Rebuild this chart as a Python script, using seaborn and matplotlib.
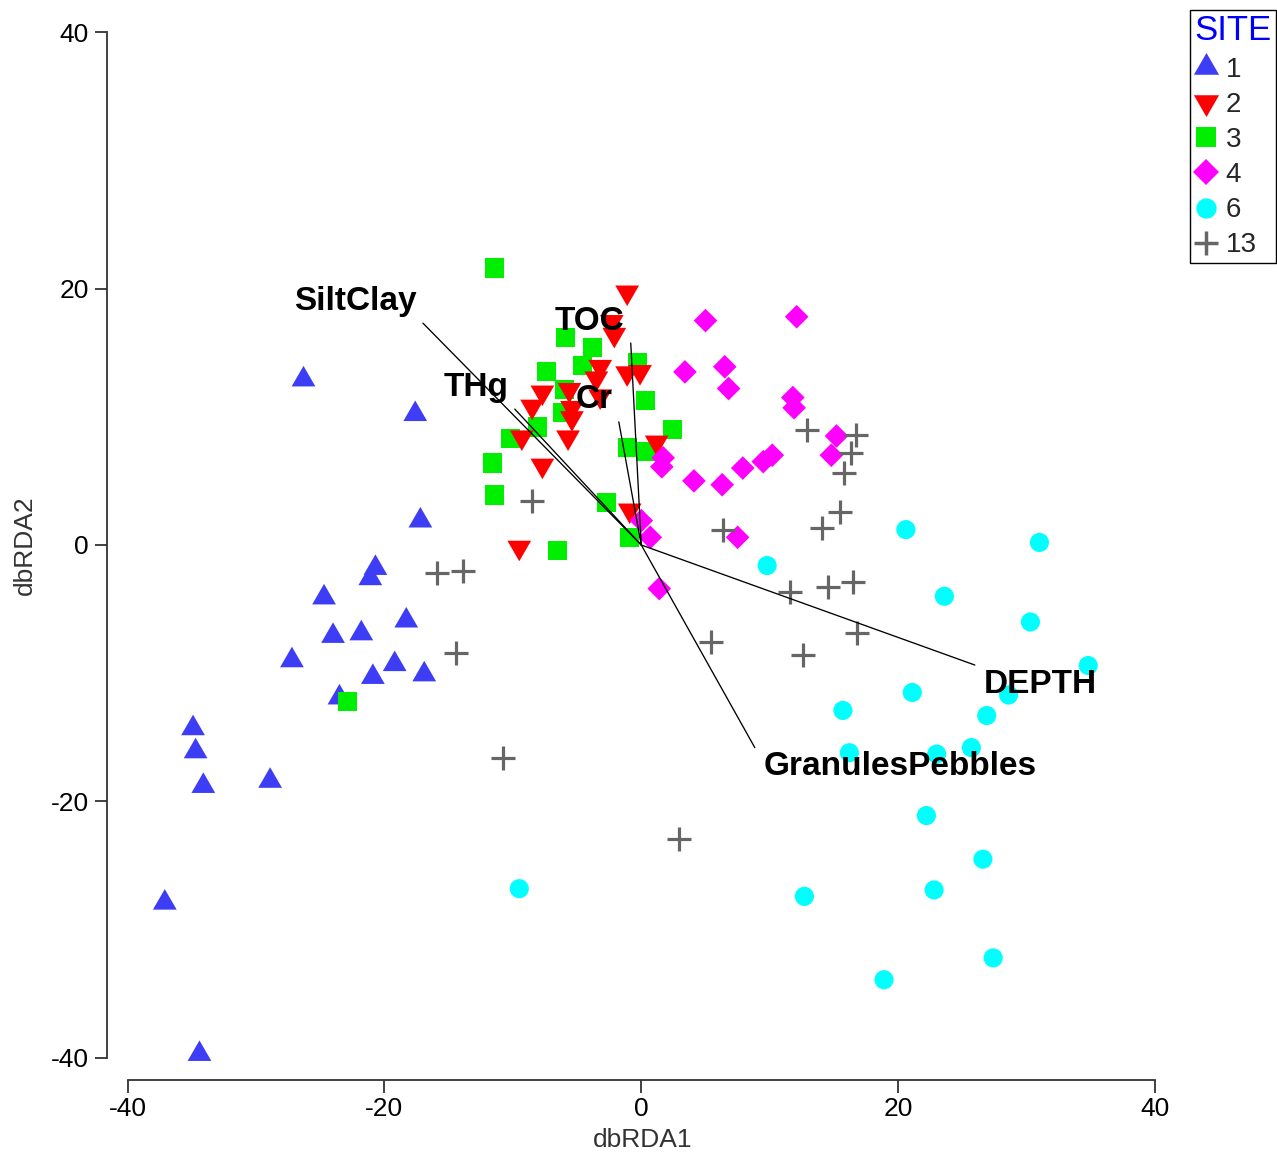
import numpy as np
import pandas as pd
import matplotlib
matplotlib.use("Agg")
import matplotlib.pyplot as plt
from matplotlib.lines import Line2D
import seaborn as sns

# ---------------- data ----------------
site1_x = [-26.3, -17.6, -17.2, -20.7, -21.1, -24.7, -24.0, -21.8, -18.3, -27.2,
           -19.2, -20.9, -16.9, -23.5, -34.9, -34.7, -34.1, -28.9, -37.1, -34.4]
site1_y = [12.9, 10.2, 1.9, -1.8, -2.6, -4.1, -7.1, -6.9, -5.9, -9.0,
           -9.3, -10.3, -10.1, -11.9, -14.3, -16.1, -18.8, -18.4, -27.9, -39.7]

site2_x = [-1.1, -2.1, -2.3, -3.2, -3.5, -1.1, -0.1, -5.6, -7.7, -8.5,
           -5.4, -5.4, -5.7, -9.3, -7.7, 1.2, -0.9, -9.5, -3.2]
site2_y = [19.7, 16.4, 17.4, 13.9, 13.0, 13.4, 13.5, 12.1, 11.9, 10.8,
           10.7, 9.9, 8.4, 8.4, 6.2, 8.0, 2.7, -0.2, 11.6]

site3_x = [-11.4, -5.9, -3.8, -4.6, -7.4, -0.3, -6.0, 0.3, -6.1, -8.1,
           -10.2, 2.4, -1.1, 0.4, -11.6, -11.4, -2.7, -0.9, -6.5, -22.9]
site3_y = [21.6, 16.2, 15.4, 14.0, 13.5, 14.2, 12.1, 11.3, 10.3, 9.2,
           8.3, 9.0, 7.6, 7.3, 6.4, 3.9, 3.3, 0.6, -0.4, -12.2]

site4_x = [5.0, 12.1, 3.4, 6.5, 6.8, 11.8, 11.9, 15.2, 14.8, 1.7,
           1.6, 4.1, 6.3, 7.9, 9.5, 10.2, 7.5, 0.0, 0.7, 1.4]
site4_y = [17.5, 17.8, 13.5, 13.9, 12.2, 11.5, 10.7, 8.5, 7.0, 6.8,
           6.1, 5.0, 4.7, 6.0, 6.5, 7.0, 0.6, 1.9, 0.6, -3.4]

site6_x = [20.6, 31.0, 9.8, 23.6, 30.3, 21.1, 34.8, 28.6, 15.7, 26.9,
           16.2, 23.0, 25.7, 22.2, 26.6, 22.8, 12.7, 27.4, 18.9, -9.5]
site6_y = [1.2, 0.2, -1.6, -4.0, -6.0, -11.5, -9.4, -11.7, -12.9, -13.3,
           -16.2, -16.3, -15.8, -21.1, -24.5, -26.9, -27.4, -32.2, -33.9, -26.8]

site13_x = [-15.9, -13.9, -14.4, -8.5, -10.8, 2.9, 5.4, 6.4, 12.9, 16.7,
            16.3, 15.8, 15.5, 14.1, 11.6, 14.5, 16.5, 16.8, 12.6]
site13_y = [-2.2, -2.0, -8.4, 3.4, -16.6, -22.9, -7.6, 1.2, 9.0, 8.6,
            7.2, 5.6, 2.6, 1.3, -3.7, -3.3, -2.9, -6.9, -8.6]

site_labels = ["1", "2", "3", "4", "6", "13"]

vec_names = ["SiltClay", "THg", "TOC", "Cr", "DEPTH", "GranulesPebbles"]
vec_x = [-17.0, -9.85, -0.82, -1.75, 25.97, 8.84]
vec_y = [17.3, 10.6, 15.75, 9.6, -9.36, -15.8]

# ---------------- styling ----------------
sns.set_theme(style="white")
plt.rcParams["font.family"] = ["Liberation Sans", "DejaVu Sans"]

DPI = 100
fig = plt.figure(figsize=(12.77, 11.55), dpi=DPI)
W, H = 1277, 1155
ax = fig.add_axes([107 / W, (H - 1080) / H, (1178 - 107) / W, (1080 - 10) / H])

tri_up = (3, 0, 0)
tri_dn = (3, 0, 180)
styles = {
    "1": dict(marker=tri_up, color="#3d3df5", s=390),
    "2": dict(marker=tri_dn, color="#ff0000", s=390),
    "3": dict(marker="s", color="#00ee00", s=190),
    "4": dict(marker="D", color="#ff00ff", s=145),
    "6": dict(marker="o", color="#00ffff", s=190),
    "13": dict(marker="+", color="#666666", s=280),
}
data = {
    "1": (site1_x, site1_y),
    "2": (site2_x, site2_y),
    "3": (site3_x, site3_y),
    "4": (site4_x, site4_y),
    "6": (site6_x, site6_y),
    "13": (site13_x, site13_y),
}
frames = []
for k, (xs, ys) in data.items():
    frames.append(pd.DataFrame({"dbRDA1": xs, "dbRDA2": ys, "SITE": k}))
df = pd.concat(frames, ignore_index=True)

draw_order = ["1", "3", "2", "4", "6", "13"]
for i, k in enumerate(draw_order):
    st = styles[k]
    sub = df[df["SITE"] == k]
    kws = dict(marker=st["marker"], color=st["color"], s=st["s"], legend=False,
               ax=ax, zorder=2 + i * 0.1)
    if st["marker"] == "+":
        kws["linewidth"] = 2.3
    else:
        kws["linewidth"] = 0
        kws["edgecolor"] = "none"
    sns.scatterplot(data=sub, x="dbRDA1", y="dbRDA2", **kws)

# vectors
for name, vx, vy in zip(vec_names, vec_x, vec_y):
    ax.plot([0, vx], [0, vy], color="black", lw=0.95, zorder=4)
    if vy > 0:
        off = (-6 / 1.389, 22 / 1.389)
        ha = "right"
    else:
        off = (9 / 1.389, -19 / 1.389)
        ha = "left"
    ax.annotate(name, (vx, vy), xytext=off, textcoords="offset points",
                ha=ha, va="center", fontsize=24, fontweight="bold",
                color="black", zorder=5)

# axes
xl = (-41.6, 41.79)
yl = (-41.72, 41.72)
ax.set_xlim(*xl)
ax.set_ylim(*yl)
ticks = [-40, -20, 0, 20, 40]
ax.set_xticks(ticks)
ax.set_yticks(ticks)
ax.set_xticklabels([str(t) for t in ticks])
ax.set_yticklabels([str(t) for t in ticks])
for side in ["top", "right"]:
    ax.spines[side].set_visible(False)
for side in ["left", "bottom"]:
    ax.spines[side].set_color("#333333")
    ax.spines[side].set_linewidth(1.3)
ax.spines["left"].set_bounds(-40, 40)
ax.spines["bottom"].set_bounds(-40, 40)
ax.tick_params(axis="both", which="major", direction="out", length=9,
               width=1.3, color="#333333", labelsize=19, labelcolor="black",
               left=True, bottom=True)
ax.tick_params(axis="y", pad=4)
ax.tick_params(axis="x", pad=3)
ax.set_xlabel("dbRDA1", fontsize=19, color="#333333", labelpad=5)
ax.set_ylabel("dbRDA2", fontsize=19, color="#333333", labelpad=10)
ax.grid(False)

# legend
handles = []
for k in site_labels:
    st = styles[k]
    ms = np.sqrt(st["s"]) * 1.06
    if st["marker"] == "+":
        h = Line2D([], [], marker="+", color=st["color"], linestyle="",
                   markersize=ms, markeredgewidth=2.5)
    else:
        h = Line2D([], [], marker=st["marker"], color=st["color"], linestyle="",
                   markersize=ms, markeredgewidth=0)
    handles.append(h)
leg = ax.legend(handles, site_labels, title="SITE", loc="upper right",
                bbox_to_anchor=(1276 / W, 1 - 10 / H), bbox_transform=fig.transFigure,
                fontsize=20, title_fontsize=25, frameon=True, fancybox=False,
                edgecolor="black", framealpha=1, borderpad=0.16,
                labelspacing=0.33, handlelength=0.85, handletextpad=0.28,
                borderaxespad=0)
leg.get_title().set_color("#0000ff")
leg.get_frame().set_linewidth(1.0)
leg._legend_box.align = "left"

fig.savefig("out.png", dpi=DPI, facecolor="white")
